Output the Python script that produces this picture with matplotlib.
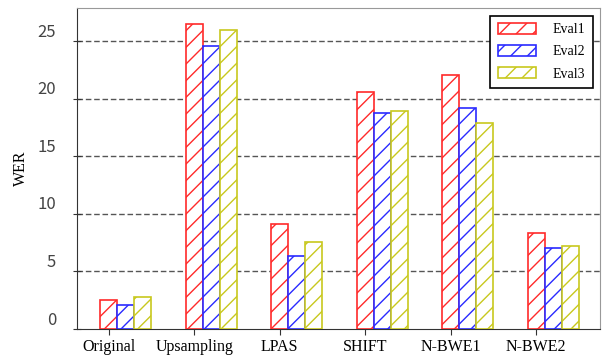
import matplotlib
matplotlib.use("Agg")
import matplotlib.pyplot as plt
import matplotlib.transforms as mtransforms
import numpy as np

categories = ["Original", "Upsampling", "LPAS", "SHIFT", "N-BWE1", "N-BWE2"]
series_names = ["Eval1", "Eval2", "Eval3"]
eval1 = [2.5, 26.5, 9.1, 20.6, 22.1, 8.3]
eval2 = [2.1, 24.6, 6.3, 18.8, 19.2, 7.0]
eval3 = [2.8, 26.0, 7.6, 18.95, 17.9, 7.2]
y_ticks = [0, 5, 10, 15, 20, 25]

colors = ["#ff2a2a", "#2a2aff", "#c8c81e"]
serif = ["Liberation Serif", "DejaVu Serif"]

plt.rcParams["hatch.linewidth"] = 1.0

fig = plt.figure(figsize=(6.02, 3.58), dpi=100)
ax = fig.add_axes([0.128, 0.081, 0.869, 0.897])

x = np.arange(len(categories))
width = 0.2
for i, (vals, name) in enumerate(zip([eval1, eval2, eval3], series_names)):
    ax.bar(x + i * width, vals, width, color="white", edgecolor=colors[i],
           hatch="//", linewidth=1.2, label=name, zorder=3)

for y in y_ticks[1:]:
    ax.axhline(y, color="#555555", ls=(0, (4, 2)), lw=1.0, zorder=1)

ax.set_xlim(-0.37, 5.75)
ax.set_ylim(0, 27.9)
ax.set_xticks(x)
ax.set_xticklabels(categories, fontfamily=serif, fontsize=11.5)
ax.set_yticks(y_ticks)
ax.set_yticklabels([str(v) for v in y_ticks], fontfamily="Noto Sans CJK JP",
                   fontsize=12, color="#444444")
ax.tick_params(axis="y", direction="inout", length=6, color="#333333", pad=12)
ax.tick_params(axis="x", direction="out", length=4, color="#333333")

# tick labels sit a bit above their ticks in the original
off = mtransforms.ScaledTranslation(0, 11 / 100, fig.dpi_scale_trans)
for lab in ax.get_yticklabels():
    lab.set_transform(lab.get_transform() + off)

for side in ["left", "bottom"]:
    ax.spines[side].set_color("#333333")
for side in ["top", "right"]:
    ax.spines[side].set_color("#999999")

ax.set_ylabel("WER", fontfamily=serif, fontsize=11.5)
ax.yaxis.set_label_coords(-0.092, 0.5)

leg = ax.legend(loc="upper right", fancybox=False,
                edgecolor="black", framealpha=1, shadow=False,
                prop={"family": serif, "size": 10}, handlelength=2.7,
                handleheight=0.8, handletextpad=1.2, borderpad=0.55,
                labelspacing=0.65, borderaxespad=0.55)
leg.get_frame().set_linewidth(1.2)

fig.savefig("out.png", dpi=100)
